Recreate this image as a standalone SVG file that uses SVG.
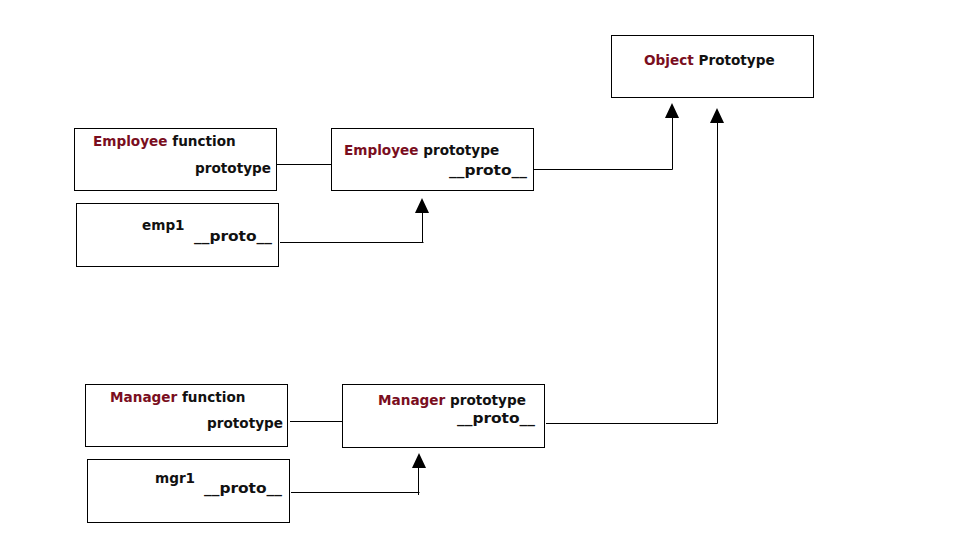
<svg xmlns="http://www.w3.org/2000/svg" width="963" height="553" viewBox="0 0 963 553">
<style>
rect.box{fill:#fff;stroke:#000;stroke-width:1}
text{font-family:"DejaVu Sans","Liberation Sans",sans-serif;font-weight:bold;font-size:13.6px;fill:#111}
.red{fill:#7a0e1e}
.ln{fill:none;stroke:#000;stroke-width:1}
.ah{fill:#000}
</style>
<rect width="963" height="553" fill="#fff"/>
<g id="object-prototype">
<rect class="box" x="611.5" y="35.5" width="202" height="62"/>
<text x="644" y="65"><tspan class="red">Object</tspan> Prototype</text>
</g>
<g id="employee-function">
<rect class="box" x="74.5" y="128.5" width="202" height="62"/>
<text x="93" y="146"><tspan class="red">Employee</tspan> function</text>
<text x="271" y="173" text-anchor="end">prototype</text>
</g>
<g id="employee-prototype">
<rect class="box" x="331.5" y="128.5" width="202" height="62"/>
<text x="344" y="155"><tspan class="red">Employee</tspan> prototype</text>
<text x="449" y="175" textLength="78" lengthAdjust="spacingAndGlyphs">__proto__</text>
</g>
<g id="emp1">
<rect class="box" x="76.5" y="203.5" width="202" height="63"/>
<text x="142" y="230">emp1</text>
<text x="194" y="241" textLength="78" lengthAdjust="spacingAndGlyphs">__proto__</text>
</g>
<g id="manager-function">
<rect class="box" x="85.5" y="384.5" width="202" height="62"/>
<text x="110" y="402"><tspan class="red">Manager</tspan> function</text>
<text x="283" y="428" text-anchor="end">prototype</text>
</g>
<g id="manager-prototype">
<rect class="box" x="342.5" y="384.5" width="202" height="63"/>
<text x="378" y="405"><tspan class="red">Manager</tspan> prototype</text>
<text x="457" y="423" textLength="78" lengthAdjust="spacingAndGlyphs">__proto__</text>
</g>
<g id="mgr1">
<rect class="box" x="87.5" y="459.5" width="202" height="63"/>
<text x="155" y="483">mgr1</text>
<text x="204" y="493" textLength="78" lengthAdjust="spacingAndGlyphs">__proto__</text>
</g>
<g id="connectors">
<path class="ln" d="M276 164.5H331"/>
<path class="ln" d="M280 242.5H423.5M422.5 242V212"/>
<polygon class="ah" points="422,198 415,213 429,213"/>
<path class="ln" d="M533 169.5H672.5V117"/>
<polygon class="ah" points="672,103 665,118 679,118"/>
<path class="ln" d="M290 421.5H342"/>
<path class="ln" d="M291 492.5H419.5M418.5 495V466"/>
<polygon class="ah" points="419,453 412,468 426,468"/>
<path class="ln" d="M546 423.5H717.5V121"/>
<polygon class="ah" points="717,108 710,123 724,123"/>
</g>
</svg>
